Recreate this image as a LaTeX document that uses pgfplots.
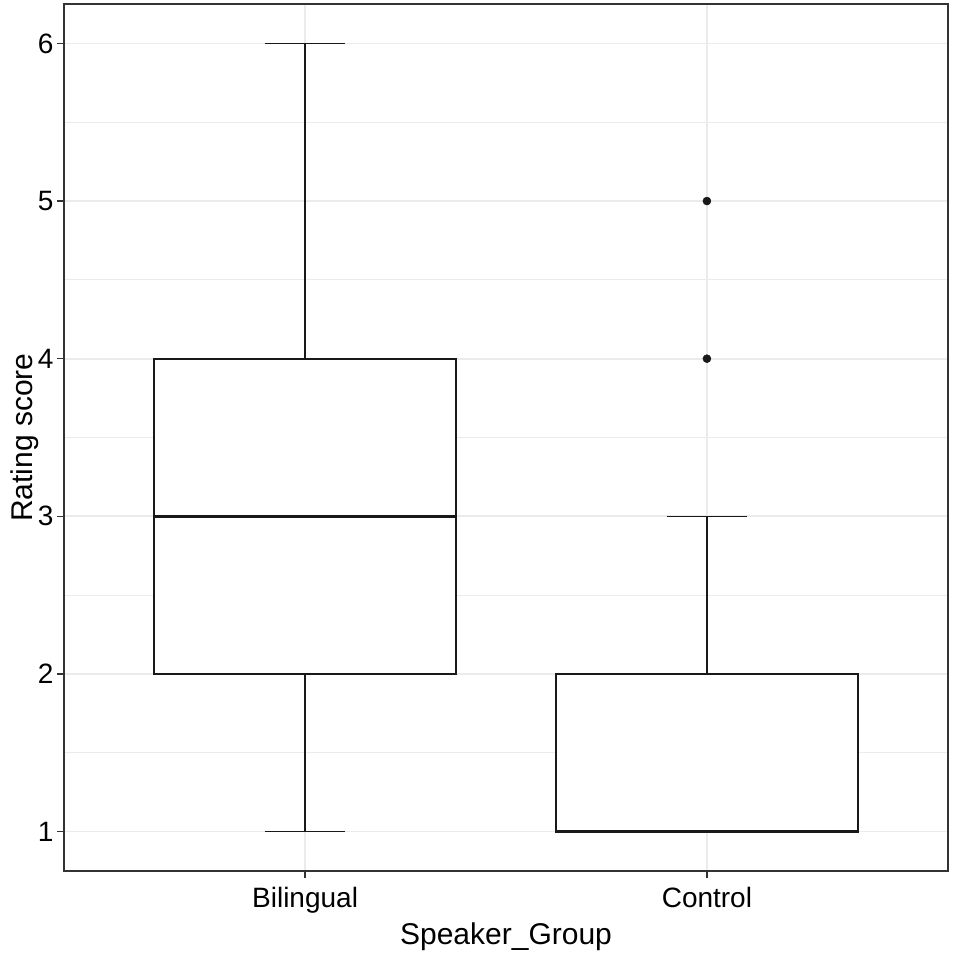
\documentclass[border=0pt]{standalone}
\usepackage{fontspec}
\setmainfont{Liberation Sans}
\usepackage{pgfplots}
\pgfplotsset{compat=1.18}
\usepgfplotslibrary{statistics}
\definecolor{grid92}{HTML}{EBEBEB}
\definecolor{g20}{HTML}{333333}
\pgfplotsset{
  boxplot/draw/lower whisker/.code={%
    \draw[/pgfplots/boxplot/every whisker/.try]
      (boxplot cs:\pgfplotsboxplotvalue{lower whisker},0) -- (boxplot cs:\pgfplotsboxplotvalue{lower quartile},0)
      (boxplot cs:\pgfplotsboxplotvalue{lower whisker},-0.1) -- (boxplot cs:\pgfplotsboxplotvalue{lower whisker},0.1);},
  boxplot/draw/upper whisker/.code={%
    \draw[/pgfplots/boxplot/every whisker/.try]
      (boxplot cs:\pgfplotsboxplotvalue{upper whisker},0) -- (boxplot cs:\pgfplotsboxplotvalue{upper quartile},0)
      (boxplot cs:\pgfplotsboxplotvalue{upper whisker},-0.1) -- (boxplot cs:\pgfplotsboxplotvalue{upper whisker},0.1);},
}
\begin{document}
\begin{tikzpicture}
\path[use as bounding box] (-64pt,-84pt) rectangle (889pt,871pt);
\begin{axis}[
  at={(0,0)}, anchor=south west,
  width=884pt, height=867pt, scale only axis,
  xmin=0.4, xmax=2.6, ymin=0.75, ymax=6.25,
  xtick={1,2}, xticklabels={Bilingual,Control},
  ytick={1,2,3,4,5,6},
  minor ytick={1.5,2.5,3.5,4.5,5.5},
  grid=both,
  major grid style={grid92, line width=1.8pt},
  minor grid style={grid92, line width=0.9pt},
  minor tick length=0pt,
  major tick length=7pt,
  tick align=outside,
  xtick pos=lower, ytick pos=left,
  tick style={g20, line width=1.5pt},
  axis line style={g20, line width=1.5pt},
  ticklabel style={font=\fontsize{28}{28}\selectfont, text=black},
  xticklabel style={yshift=-6pt},
  /pgf/number format/assume math mode=true,
  xlabel={Speaker\_Group}, ylabel={Rating score},
  label style={font=\fontsize{30}{30}\selectfont, text=black},
  xlabel style={at={(axis description cs:0.5,0)}, anchor=base, yshift=-73pt},
  ylabel style={at={(axis description cs:0,0.5)}, anchor=base, yshift=31pt},
  boxplot/draw direction=y,
]
\addplot[black!90, line width=1.9pt, fill=white,
  boxplot prepared={lower whisker=1, lower quartile=2, median=3,
    upper quartile=4, upper whisker=6, draw position=1,
    box extend=0.75,
    every median/.style={line width=3pt},
    every whisker/.style={line width=1.6pt}}]
  coordinates {};
\addplot[black!90, line width=1.9pt, fill=white, mark=*, mark size=4pt,
  mark options={solid, fill=black!90, draw=black!90, line width=0.5pt},
  boxplot prepared={lower whisker=1, lower quartile=1, median=1,
    upper quartile=2, upper whisker=3, draw position=2,
    box extend=0.75,
    every median/.style={line width=3pt},
    every whisker/.style={line width=1.6pt}}]
  table[row sep=\\, y index=0] {4\\5\\};
\end{axis}
\end{tikzpicture}
\end{document}
